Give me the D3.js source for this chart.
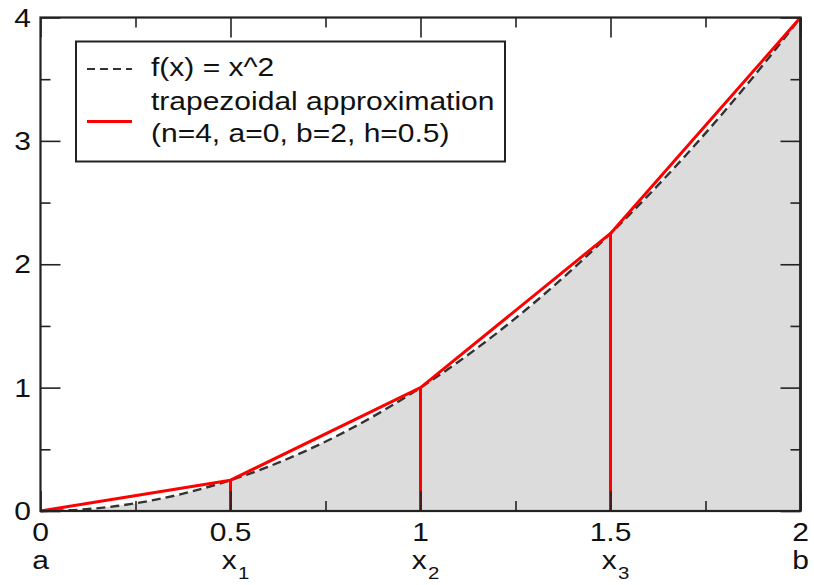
<!DOCTYPE html>
<html>
<head>
<meta charset="utf-8">
<script src="https://cdn.jsdelivr.net/npm/d3@7"></script>
<style>
  body { margin: 0; background: #fff; }
  text { font-family: "Liberation Sans", Arial, sans-serif; fill: #111; }
</style>
</head>
<body>
<svg id="chart" width="814" height="585"></svg>
<script>
// curve f(x) = x^2, values read at 0.1 steps
let curveX = [0, 0.1, 0.2, 0.3, 0.4, 0.5, 0.6, 0.7, 0.8, 0.9, 1, 1.1, 1.2, 1.3, 1.4, 1.5, 1.6, 1.7, 1.8, 1.9, 2]
let curveY = [0, 0.01, 0.04, 0.09, 0.16, 0.25, 0.36, 0.49, 0.64, 0.81, 1, 1.21, 1.44, 1.69, 1.96, 2.25, 2.56, 2.89, 3.24, 3.61, 4]
// trapezoid nodes
let nodeX = [0, 0.5, 1, 1.5, 2]
let nodeY = [0, 0.25, 1, 2.25, 4]
// ticks
let xMajor = [0, 0.5, 1, 1.5, 2]
let xMinor = [0.25, 0.75, 1.25, 1.75]
let xLabels = ['0', '0.5', '1', '1.5', '2']
let xNames = [['a', ''], ['x', '1'], ['x', '2'], ['x', '3'], ['b', '']]
let yMajor = [0, 1, 2, 3, 4]
let yMinor = [0.5, 1.5, 2.5, 3.5]
let legendLabels = ['f(x) = x^2', 'trapezoidal approximation', '(n=4, a=0, b=2, h=0.5)']

let plotL = 40.5, plotR = 800.5, plotT = 17.5, plotB = 511
let sx = 1.2 // horizontal stretch of the glyphs

let svg = d3.select('#chart')
let xScale = d3.scaleLinear().domain([0, 2]).range([plotL, plotR])
let yScale = d3.scaleLinear().domain([0, 4]).range([plotB, plotT])

let curve = curveX.map((d, i) => ({x: d, y: curveY[i]}))
let nodes = nodeX.map((d, i) => ({x: d, y: nodeY[i]}))

// fill under curve
let area = d3.area().x(d => xScale(d.x)).y0(yScale(0)).y1(d => yScale(d.y)).curve(d3.curveMonotoneX)
svg.append('path').datum(curve).attr('d', area).attr('fill', '#dcdcdc')

// dashed curve
let line = d3.line().x(d => xScale(d.x)).y(d => yScale(d.y))
svg.append('path').datum(curve).attr('d', line.curve(d3.curveMonotoneX))
    .attr('fill', 'none').attr('stroke', '#333').attr('stroke-width', 2.4).attr('stroke-dasharray', '9,5')

// trapezoid lines
svg.append('path').datum(nodes).attr('d', d3.line().x(d => xScale(d.x)).y(d => yScale(d.y)))
    .attr('fill', 'none').attr('stroke', '#ff0000').attr('stroke-width', 3).attr('stroke-linejoin', 'round')
svg.selectAll('line.vert').data(nodes.slice(1)).enter().append('line')
    .attr('x1', d => xScale(d.x)).attr('x2', d => xScale(d.x))
    .attr('y1', yScale(0)).attr('y2', d => yScale(d.y))
    .attr('stroke', '#ff0000').attr('stroke-width', 3)

// ticks (inward, on all four sides)
function tickAxis(axis, vals, size, transform) {
    let g = svg.append('g').attr('transform', transform)
        .call(axis.tickValues(vals).tickSize(-size).tickFormat(''))
    g.select('.domain').remove()
    g.selectAll('.tick line').attr('stroke', '#222').attr('stroke-width', 1.6)
}
tickAxis(d3.axisBottom(xScale), xMajor, 20, 'translate(0,' + plotB + ')')
tickAxis(d3.axisBottom(xScale), xMinor, 10, 'translate(0,' + plotB + ')')
tickAxis(d3.axisTop(xScale), xMajor, 20, 'translate(0,' + plotT + ')')
tickAxis(d3.axisTop(xScale), xMinor, 10, 'translate(0,' + plotT + ')')
tickAxis(d3.axisLeft(yScale), yMajor, 20, 'translate(' + plotL + ',0)')
tickAxis(d3.axisLeft(yScale), yMinor, 10, 'translate(' + plotL + ',0)')
tickAxis(d3.axisRight(yScale), yMajor, 20, 'translate(' + plotR + ',0)')
tickAxis(d3.axisRight(yScale), yMinor, 10, 'translate(' + plotR + ',0)')

// frame
svg.append('rect').attr('x', plotL).attr('y', plotT).attr('width', plotR - plotL).attr('height', plotB - plotT)
    .attr('fill', 'none').attr('stroke', '#222').attr('stroke-width', 2.2)

// y labels
svg.selectAll('text.ylab').data(yMajor).enter().append('text')
    .attr('transform', d => 'translate(31,' + (yScale(d) + 9) + ') scale(' + sx + ',1)')
    .attr('text-anchor', 'end').attr('font-size', 25).text(d => d)

// x labels
svg.selectAll('text.xlab').data(xMajor).enter().append('text')
    .attr('transform', d => 'translate(' + xScale(d) + ',541) scale(' + sx + ',1)')
    .attr('text-anchor', 'middle').attr('font-size', 25).text((d, i) => xLabels[i])
let names = svg.selectAll('text.xname').data(xMajor).enter().append('text')
    .attr('transform', (d, i) => 'translate(' + (xScale(d) + (xNames[i][1] ? 5 : 0)) + ',569) scale(' + sx + ',1)')
    .attr('text-anchor', 'middle').attr('font-size', 25)
names.append('tspan').text((d, i) => xNames[i][0])
names.append('tspan').attr('font-size', 17).attr('dy', 10).attr('dx', 1).text((d, i) => xNames[i][1])

// legend
let lg = svg.append('g')
lg.append('rect').attr('x', 76).attr('y', 41.5).attr('width', 429).attr('height', 120)
    .attr('fill', '#fff').attr('stroke', '#222').attr('stroke-width', 2)
lg.append('line').attr('x1', 87).attr('x2', 132).attr('y1', 69).attr('y2', 69)
    .attr('stroke', '#333').attr('stroke-width', 2).attr('stroke-dasharray', '8,5')
lg.append('line').attr('x1', 87).attr('x2', 132).attr('y1', 121.5).attr('y2', 121.5)
    .attr('stroke', '#ff0000').attr('stroke-width', 3)
let legendY = [76, 110, 142]
lg.selectAll('text').data(legendLabels).enter().append('text')
    .attr('transform', (d, i) => 'translate(151,' + legendY[i] + ') scale(' + sx + ',1)')
    .attr('font-size', 25).text(d => d)
</script>
</body>
</html>
